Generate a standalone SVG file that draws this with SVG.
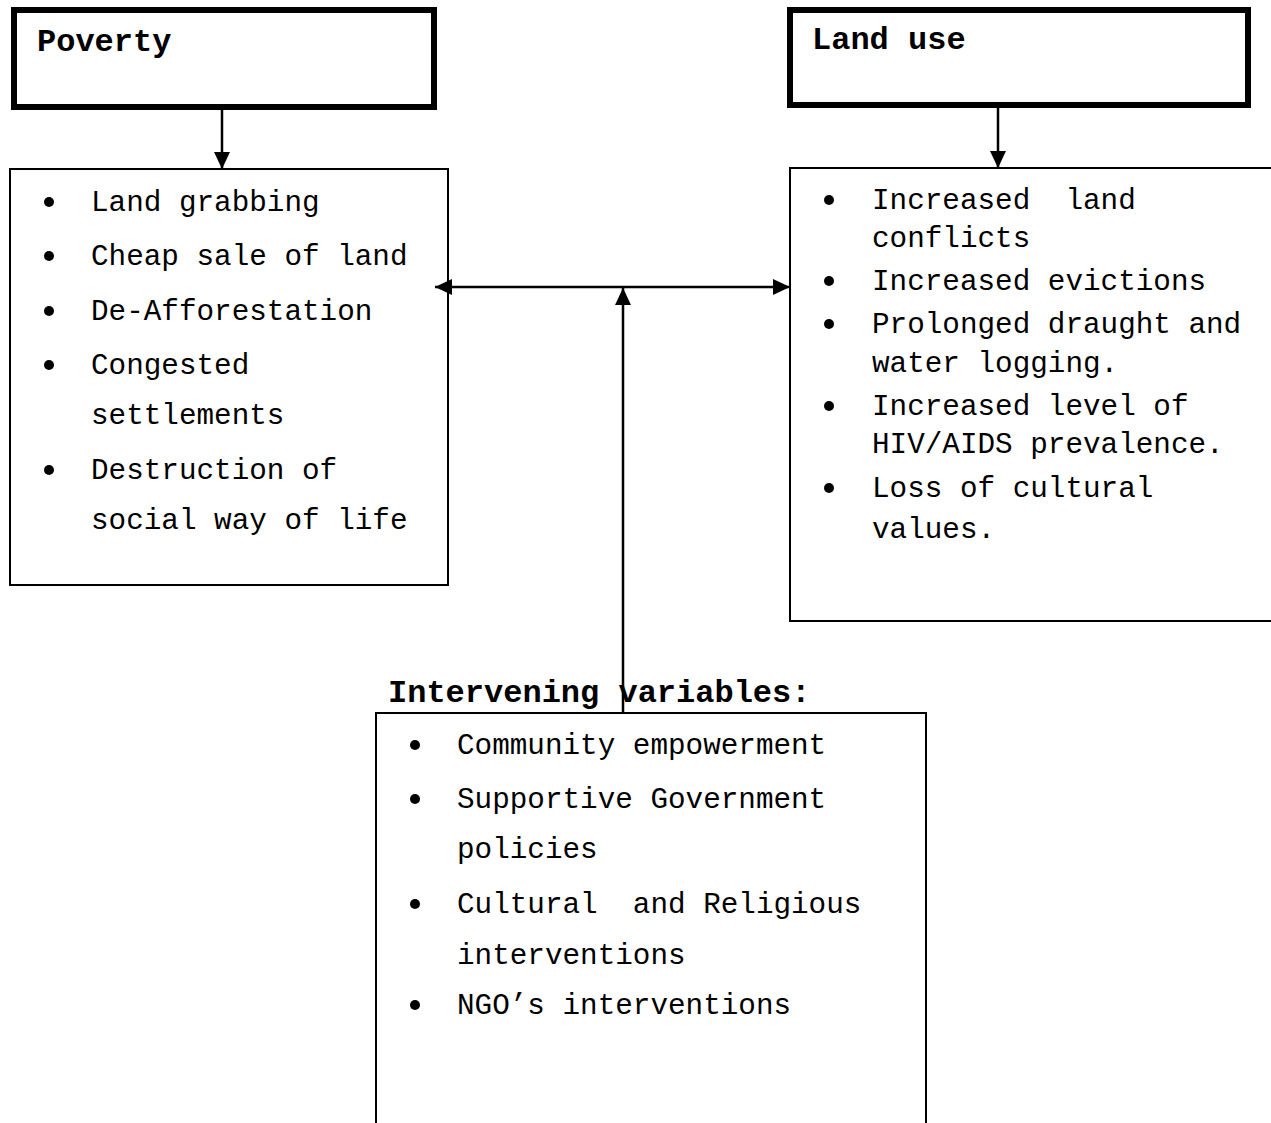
<svg xmlns="http://www.w3.org/2000/svg" width="1271" height="1123" viewBox="0 0 1271 1123">
<defs>
<style>
.hbox{fill:#fff;stroke:#000;stroke-width:6}
.box{fill:#fff;stroke:#000;stroke-width:2}
.head{font-family:"Liberation Mono","Courier New",monospace;font-weight:bold;font-size:32px;fill:#000}
.txt{font-family:"Liberation Mono","Courier New",monospace;font-size:29.3px;fill:#000;white-space:pre}
.bul{fill:#000}
.conn{stroke:#000;stroke-width:2.5;fill:none}
</style>
<marker id="arr" viewBox="0 0 17 16" refX="17" refY="8" markerWidth="17" markerHeight="16" markerUnits="userSpaceOnUse" orient="auto-start-reverse">
<path d="M0,0 L17,8 L0,16 z" fill="#000"/>
</marker>
</defs>
<rect width="1271" height="1123" fill="#fff"/>

<g id="poverty">
<rect class="hbox" x="14" y="10" width="420" height="97"/>
<text class="head" x="37" y="51">Poverty</text>
</g>

<g id="landuse">
<rect class="hbox" x="790" y="10" width="458" height="95"/>
<text class="head" x="812" y="49">Land use</text>
</g>

<g id="poverty-effects">
<rect class="box" x="10" y="169" width="438" height="416"/>
<circle class="bul" cx="49" cy="202" r="5"/>
<text class="txt" x="91" y="211">Land grabbing</text>
<circle class="bul" cx="49" cy="256" r="5"/>
<text class="txt" x="91" y="265">Cheap sale of land</text>
<circle class="bul" cx="49" cy="311" r="5"/>
<text class="txt" x="91" y="320">De-Afforestation</text>
<circle class="bul" cx="49" cy="365" r="5"/>
<text class="txt" x="91" y="374">Congested</text>
<text class="txt" x="91" y="424">settlements</text>
<circle class="bul" cx="49" cy="470" r="5"/>
<text class="txt" x="91" y="479">Destruction of</text>
<text class="txt" x="91" y="529">social way of life</text>
</g>

<g id="landuse-effects">
<rect class="box" x="790" y="168" width="500" height="453"/>
<circle class="bul" cx="829" cy="200" r="5"/>
<text class="txt" x="872" y="209">Increased  land</text>
<text class="txt" x="872" y="247">conflicts</text>
<circle class="bul" cx="829" cy="281" r="5"/>
<text class="txt" x="872" y="290">Increased evictions</text>
<circle class="bul" cx="829" cy="324" r="5"/>
<text class="txt" x="872" y="333">Prolonged draught and</text>
<text class="txt" x="872" y="372">water logging.</text>
<circle class="bul" cx="829" cy="406" r="5"/>
<text class="txt" x="872" y="415">Increased level of</text>
<text class="txt" x="872" y="453">HIV/AIDS prevalence.</text>
<circle class="bul" cx="829" cy="488" r="5"/>
<text class="txt" x="872" y="497">Loss of cultural</text>
<text class="txt" x="872" y="538">values.</text>
</g>

<g id="intervening">
<text class="head" x="388" y="702">Intervening variables:</text>
<rect class="box" x="376" y="713" width="550" height="440"/>
<circle class="bul" cx="415" cy="745" r="5"/>
<text class="txt" x="457" y="754">Community empowerment</text>
<circle class="bul" cx="415" cy="799" r="5"/>
<text class="txt" x="457" y="808">Supportive Government</text>
<text class="txt" x="457" y="858">policies</text>
<circle class="bul" cx="415" cy="904" r="5"/>
<text class="txt" x="457" y="913">Cultural  and Religious</text>
<text class="txt" x="457" y="964">interventions</text>
<circle class="bul" cx="415" cy="1005" r="5"/>
<text class="txt" x="457" y="1014">NGO’s interventions</text>
</g>

<g id="connectors">
<line class="conn" x1="222" y1="110" x2="222" y2="169" marker-end="url(#arr)"/>
<line class="conn" x1="998" y1="108" x2="998" y2="168" marker-end="url(#arr)"/>
<line class="conn" x1="435" y1="287" x2="790" y2="287" marker-start="url(#arr)" marker-end="url(#arr)"/>
<line class="conn" x1="623" y1="713" x2="623" y2="288" marker-end="url(#arr)"/>
</g>
</svg>
